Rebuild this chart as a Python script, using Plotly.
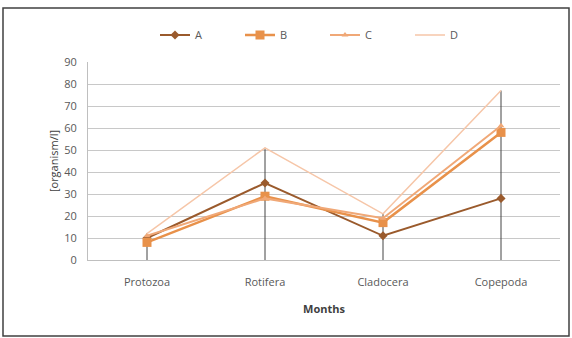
import plotly.graph_objects as go

categories = ["Protozoa", "Rotifera", "Cladocera", "Copepoda"]
series_names = ["A", "B", "C", "D"]
A = [10, 35, 11, 28]
B = [8, 29, 17, 58]
C = [11, 28, 19, 61]
D = [12, 51, 21, 77]
y_ticks = [0, 10, 20, 30, 40, 50, 60, 70, 80, 90]

colors = ["#9a5a2c", "#e8914a", "#f0a877", "#f6c6a8"]
symbols = ["diamond", "square", "triangle-up", None]
sizes = [7, 9, 6, 0]
widths = [2, 2.5, 2, 1.5]

fig = go.Figure()

# drop lines from the max of each category down to the axis
all_series = [A, B, C, D]
dx, dy = [], []
for i, cat in enumerate(categories):
    top = max(s[i] for s in all_series)
    dx += [cat, cat, None]
    dy += [0, top, None]
fig.add_trace(go.Scatter(x=dx, y=dy, mode="lines", line=dict(color="#444444", width=1),
                         showlegend=False, hoverinfo="skip"))

for name, vals, col, sym, sz, w in zip(series_names, all_series, colors, symbols, sizes, widths):
    if sym:
        fig.add_trace(go.Scatter(x=categories, y=vals, name=name, mode="lines+markers",
                                 line=dict(color=col, width=w),
                                 marker=dict(symbol=sym, size=sz, color=col)))
    else:
        fig.add_trace(go.Scatter(x=categories, y=vals, name=name, mode="lines",
                                 line=dict(color=col, width=w)))

fig.update_layout(
    width=572, height=338,
    margin=dict(l=88, r=12, t=62, b=78, autoexpand=False),
    paper_bgcolor="white", plot_bgcolor="white",
    font=dict(family="Open Sans, DejaVu Sans, sans-serif", size=11, color="#595959"),
    showlegend=True,
    legend=dict(orientation="h", x=(155 - 88) / 472, xanchor="left", y=(260 - 35) / 198,
                yanchor="middle", font=dict(size=11, color="#595959"),
                entrywidth=40, entrywidthmode="pixels", bgcolor="rgba(0,0,0,0)"),
    xaxis=dict(type="category", range=[-0.5, 3.5], showgrid=False,
               showline=True, linecolor="#bfbfbf", ticks="", ticklabelstandoff=12,
               title=dict(text="<b>Months</b>", font=dict(size=11, color="#404040"), standoff=17),
               tickfont=dict(size=11, color="#595959")),
    yaxis=dict(range=[0, 90], tickvals=y_ticks, showgrid=True, gridcolor="#c8c8c8", gridwidth=1,
               showline=True, linecolor="#bfbfbf", zeroline=False, ticks="", ticklabelstandoff=8,
               title=dict(text="[organism/l]", font=dict(size=11, color="#404040"), standoff=3),
               tickfont=dict(size=11, color="#595959")),
    shapes=[dict(type="rect", xref="paper", yref="paper",
                 x0=(3 - 88) / 472, x1=(569 - 88) / 472,
                 y0=(260 - 336) / 198, y1=(260 - 8) / 198,
                 line=dict(color="#404040", width=1.5), fillcolor="rgba(0,0,0,0)", layer="below")],
)

fig.write_html("out.html", config={"displayModeBar": False},
               post_script="document.body.style.margin='0';")
